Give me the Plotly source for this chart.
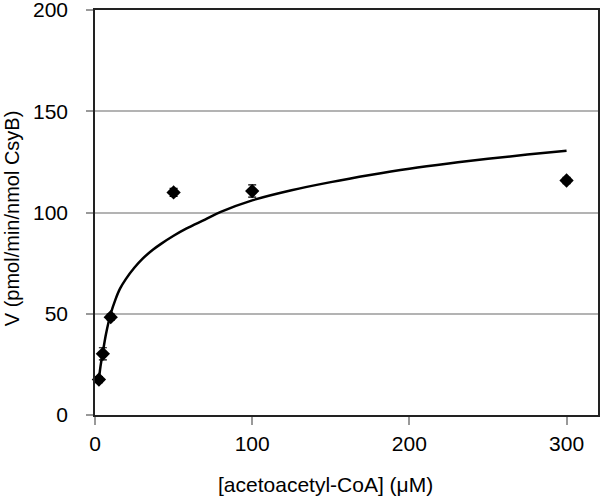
import plotly.graph_objects as go

# measured points
conc = [2.5, 5, 10, 50, 100, 300]
rate = [17.5, 30.2, 48.3, 109.9, 110.6, 115.8]
rate_err = [1.5, 3.0, 1.5, 2.0, 3.0, 1.5]

# fitted curve
curve_x = [2.5, 3.5, 5, 7, 10, 13, 16, 19.5, 25, 30, 37, 42, 50, 58, 70, 80, 100, 125, 150, 175, 200, 225, 250, 275, 300]
curve_y = [17.5, 24.0, 31.0, 40.0, 50.0, 57.0, 62.5, 67.0, 72.7, 77.0, 81.7, 84.5, 88.5, 92.0, 96.5, 100.3, 106.0, 111.0, 115.0, 118.5, 121.6, 124.2, 126.5, 128.6, 130.5]

x_ticks = [0, 100, 200, 300]
y_ticks = [0, 50, 100, 150, 200]

fig = go.Figure()
fig.add_trace(go.Scatter(x=curve_x, y=curve_y, mode="lines",
                         line=dict(color="black", width=2.5, shape="spline", smoothing=1.0),
                         showlegend=False, hoverinfo="skip", cliponaxis=False))
fig.add_trace(go.Scatter(x=conc, y=rate, mode="markers",
                         marker=dict(symbol="diamond", size=11, color="black"),
                         error_y=dict(type="data", array=rate_err, color="black",
                                      thickness=1.2, width=4),
                         showlegend=False, cliponaxis=False))

font = "Liberation Sans, Arial, sans-serif"
L, R, T, B = 95, 598, 10, 415.5
W, H = 600, 499
fig.update_layout(
    width=W, height=H,
    margin=dict(l=L, r=W - R, t=T, b=H - B),
    paper_bgcolor="white", plot_bgcolor="white",
    font=dict(family=font, color="black"),
    xaxis=dict(range=[0, 320], tickvals=x_ticks, ticks="outside", ticklen=8,
               tickcolor="#999999", tickwidth=1.5, showgrid=False, zeroline=False,
               showline=True, linecolor="#222222", linewidth=1.5, mirror=True,
               tickfont=dict(size=21, family=font), ticklabelstandoff=1,
               automargin=False, ticklabeloverflow="allow"),
    yaxis=dict(range=[0, 200], tickvals=y_ticks, ticks="outside", ticklen=7,
               tickcolor="#999999", tickwidth=1.5, showgrid=True,
               gridcolor="#b3b3b3", gridwidth=1.5, zeroline=False,
               showline=True, linecolor="#222222", linewidth=1.5, mirror=True,
               tickfont=dict(size=21, family=font), ticklabelstandoff=14,
               automargin=False, ticklabeloverflow="allow"),
)
pw, ph = R - L, B - T
fig.add_annotation(text="[acetoacetyl-CoA] (μM)", xref="paper", yref="paper",
                   x=(325 - L) / pw, y=-(485 - B) / ph,
                   showarrow=False, font=dict(size=21, family=font),
                   xanchor="center", yanchor="middle")
fig.add_annotation(text="V (pmol/min/nmol CsyB)", xref="paper", yref="paper",
                   x=-(L - 12) / pw, y=(B - 218.5) / ph, textangle=-90,
                   showarrow=False, font=dict(size=20, family=font),
                   xanchor="center", yanchor="middle")

fig.write_html("out.html", config={"displayModeBar": False},
               post_script="document.body.style.margin='0';document.body.style.overflow='hidden';")
